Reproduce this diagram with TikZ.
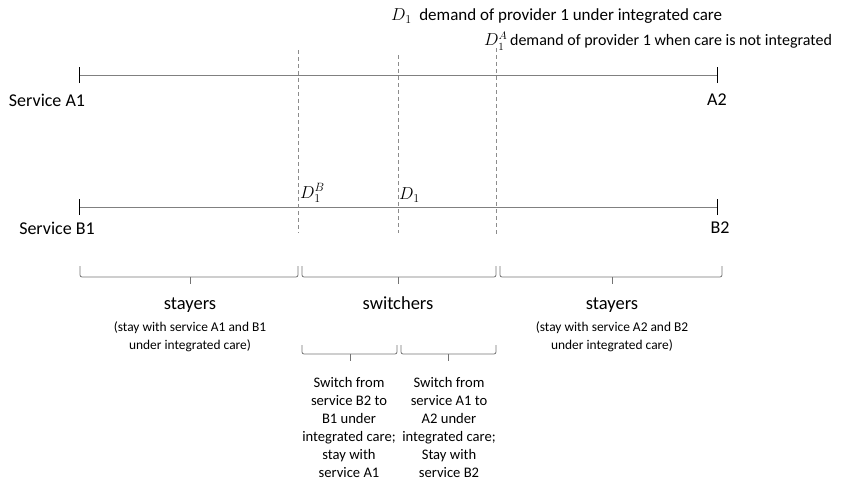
\documentclass[tikz,border=0pt]{standalone}
\usepackage{fontspec}
\setmainfont{Carlito}
\begin{document}
\begin{tikzpicture}[x=1pt,y=-1pt,
  axisline/.style={draw=black!50,line width=0.9pt},
  tickline/.style={draw=black,line width=0.9pt},
  dashline/.style={draw=black!45,dashed,dash pattern=on 4pt off 3pt,line width=0.6pt},
  bracepath/.style={draw=black!55,line width=0.8pt,rounded corners=2pt},
  lbl/.style={inner sep=0pt,font=\fontsize{18}{20}\selectfont},
  leg/.style={inner sep=0pt,font=\fontsize{17}{20}\selectfont},
  legb/.style={inner sep=0pt,font=\fontsize{16}{20}\selectfont},
  big/.style={inner sep=0pt,font=\fontsize{18.5}{20}\selectfont},
  small/.style={inner sep=0pt,align=center,font=\fontsize{13.4}{18}\selectfont},
  sub/.style={inner sep=0pt,align=center,font=\fontsize{14.6}{18}\selectfont}]
\useasboundingbox (0,0) rectangle (845,480);
% axis A
\coordinate (a1) at (79,75);
\coordinate (a2) at (717,75);
\draw[axisline] (a1) -- (a2);
\draw[tickline] ([yshift=-8]a1) -- ([yshift=8]a1);
\draw[tickline] ([yshift=-8]a2) -- ([yshift=8]a2);
\node[lbl] (sa1) at (47,100) {Service A1};
\node[lbl] (sa2) at (717,100) {A2};
% axis B
\coordinate (b1) at (79,207);
\coordinate (b2) at (717,207);
\draw[axisline] (b1) -- (b2);
\draw[tickline] ([yshift=-8]b1) -- ([yshift=8]b1);
\draw[tickline] ([yshift=-8]b2) -- ([yshift=8]b2);
\node[lbl] (sb1) at (57,228) {Service B1};
\node[lbl] (sb2) at (720,228) {B2};
% dashed verticals
\coordinate (d1t) at (298,50);  \coordinate (d1b) at (298,233);
\coordinate (d2t) at (398,55);  \coordinate (d2b) at (398,233);
\coordinate (d3t) at (496,48);  \coordinate (d3b) at (496,235);
\draw[dashline] (d1t) -- (d1b);
\draw[dashline] (d2t) -- (d2b);
\draw[dashline] (d3t) -- (d3b);
% labels on B
\node[lbl,anchor=west] (dB) at (300,193) {$D_1^B$};
\node[lbl,anchor=west] (dD) at (399,195) {$D_1$};
% legend
\node[leg,anchor=west] (leg1) at (391,16) {$D_1$\ \ demand of provider 1 under integrated care};
\node[legb,anchor=west] (leg2) at (484,41) {$D_1^A$\,demand of provider 1 when care is not integrated};
% big braces
\draw[bracepath] (80,266) |- (298,277) -- (298,266);
\draw[draw=black!55,line width=0.8pt] (190,277) -- (190,284);
\draw[bracepath] (302,266) |- (496,277) -- (496,266);
\draw[draw=black!55,line width=0.8pt] (398,277) -- (398,284);
\draw[bracepath] (500,266) |- (722,277) -- (722,266);
\draw[draw=black!55,line width=0.8pt] (612,277) -- (612,284);
% group labels
\node[big] (st1) at (190,305) {stayers};
\node[small] (st1d) at (190,337) {(stay with service A1 and B1\\under integrated care)};
\node[big] (sw) at (398,303) {switchers};
\node[big] (st2) at (612,305) {stayers};
\node[small] (st2d) at (612,337) {(stay with service A2 and B2\\under integrated care)};
% small braces
\draw[bracepath] (302,345) |- (397,354) -- (397,345);
\draw[draw=black!55,line width=0.8pt] (350,354) -- (350,361);
\draw[bracepath] (401,345) |- (496,354) -- (496,345);
\draw[draw=black!55,line width=0.8pt] (448,354) -- (448,361);
\node[sub,anchor=north] (sw1) at (349,377) {Switch from\\service B2 to\\B1 under\\integrated care;\\stay with\\service A1};
\node[sub,anchor=north] (sw2) at (449,377) {Switch from\\service A1 to\\A2 under\\integrated care;\\Stay with\\service B2};
\end{tikzpicture}
\end{document}
